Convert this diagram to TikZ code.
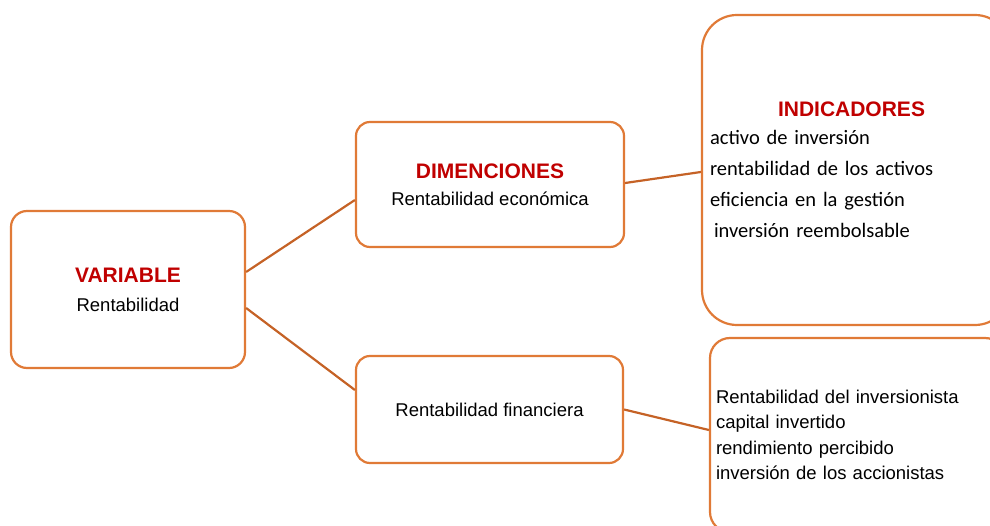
\documentclass[tikz,border=0pt]{standalone}
\usepackage{fontspec}
\setmainfont{Liberation Sans}
\newfontfamily\calibri{Carlito}
\usepackage{xcolor}
\usepackage{tikz}
\definecolor{boxorange}{RGB}{224,122,55}
\definecolor{lineorange}{RGB}{197,98,38}
\definecolor{titlered}{RGB}{192,0,0}
\newcommand{\titletext}[1]{{\rmfamily\fontsize{21}{25}\selectfont\bfseries\color{titlered}#1}}

\begin{document}
\begin{tikzpicture}[x=1pt, y=-1pt,
    box/.style={draw=boxorange, line width=2.2pt, fill=white, inner sep=0pt},
    link/.style={draw=lineorange, line width=2.2pt},
    arialtext/.style={font=\fontsize{18.5}{29}\selectfont}]
    \useasboundingbox (0,0) rectangle (990,526);
    \clip (0,0) rectangle (990,526);
            \node (var) at (128, 289.5) [box, arialtext, rounded corners=16pt, minimum width=234pt, minimum height=157pt, align=center] {\titletext{VARIABLE}\\Rentabilidad};
            \node (dim1) at (490, 184.5) [box, arialtext, rounded corners=14pt, minimum width=268pt, minimum height=125pt, align=center, font=\fontsize{18.5}{27}\selectfont] {\titletext{DIMENCIONES}\\Rentabilidad económica};
            \node (dim2) at (489.5, 409.5) [box, arialtext, rounded corners=14pt, minimum width=267pt, minimum height=107pt] {Rentabilidad financiera};
            \node (ind1) at (856, 170) [box, rounded corners=35pt, text width=292pt, inner xsep=8pt, minimum height=310pt, align=left, font=\calibri\fontsize{20.5}{31}\selectfont] {\hspace*{68pt}\titletext{INDICADORES}\\[-3pt]
                activo de inversión\\
                rentabilidad de los activos\\
                eficiencia en la gestión\\
                \hspace*{4pt}inversión reembolsable};
            \node (ind2) at (857.5, 435) [box, rounded corners=20pt, text width=283pt, inner xsep=6pt, minimum height=194pt, align=left, font=\fontsize{18.5}{25.5}\selectfont] {Rentabilidad del inversionista\\
                capital invertido\\
                rendimiento percibido\\
                inversión de los accionistas};
            \draw [link] ([yshift=17.5pt]var.east) -- ([yshift=-15.5pt]dim1.west);
            \draw [link] ([yshift=-18.5pt]var.east) -- ([yshift=19.5pt]dim2.west);
            \draw [link] ([yshift=1.5pt]dim1.east) -- ([yshift=-2pt]ind1.west);
            \draw [link] (dim2.east) -- ([yshift=5pt]ind2.west);
        \end{tikzpicture}
\end{document}
